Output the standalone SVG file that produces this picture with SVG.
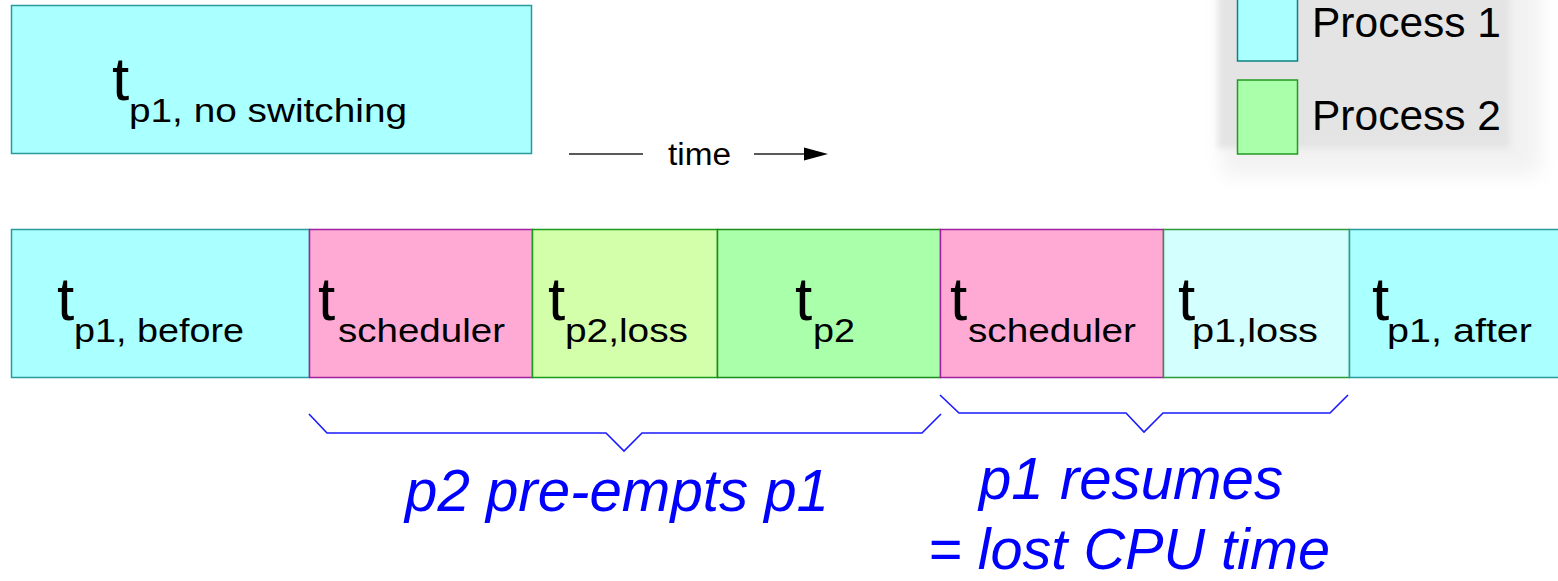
<svg xmlns="http://www.w3.org/2000/svg" width="1558" height="581" viewBox="0 0 1558 581">
<defs>
<filter id="blurBig" x="-30%" y="-30%" width="160%" height="160%"><feGaussianBlur stdDeviation="10"/></filter>
<filter id="blurSmall" x="-20%" y="-20%" width="140%" height="140%"><feGaussianBlur stdDeviation="3"/></filter>
</defs>
<style>
.p1{fill:#aaffff;stroke:#2a9a9a;stroke-width:1.5}
.p1l{fill:#d4ffff;stroke:#2a9a3a;stroke-width:1.5}
.p2{fill:#aaffaa;stroke:#1a8a1a;stroke-width:1.5}
.p2l{fill:#d4ffaa;stroke:#1a9a1a;stroke-width:1.5}
.sch{fill:#ffaad4;stroke:#a020a0;stroke-width:1.5}
.tb{font-family:"Liberation Sans",Arial,sans-serif;font-size:62px;fill:#000}
.ts{font-family:"Liberation Sans",Arial,sans-serif;font-size:33px;fill:#000}
.lg{font-family:"Liberation Sans",Arial,sans-serif;font-size:42.5px;fill:#000}
.bl{font-family:"Liberation Sans",Arial,sans-serif;font-size:59px;font-style:italic;fill:#0000ff}
.br{fill:none;stroke:#1a1aff;stroke-width:1.6}
</style>

<g id="legend">
<rect x="1222" y="-20" width="318" height="195" fill="#e4e4e4" opacity="0.5" filter="url(#blurBig)"/>
<rect x="1218" y="-10" width="292" height="158" fill="#e4e4e4" filter="url(#blurSmall)"/>
<rect x="1237.5" y="-5" width="60" height="66" class="p1" style="stroke:#108080"/>
<text x="1312" y="37" class="lg">Process 1</text>
<rect x="1237.5" y="80" width="60" height="74" class="p2" style="stroke:#229922"/>
<text x="1312" y="130" class="lg">Process 2</text>
</g>

<g id="noswitch">
<rect x="11.5" y="5.5" width="520" height="148" class="p1"/>
<text x="112" y="100" class="tb">t</text>
<text x="129" y="122" class="ts" textLength="278" lengthAdjust="spacingAndGlyphs">p1, no switching</text>
</g>

<g id="timeaxis">
<line x1="569" y1="154" x2="643" y2="154" stroke="#222" stroke-width="1.5"/>
<text x="668" y="165" font-family="Liberation Sans, Arial, sans-serif" font-size="31" textLength="63" lengthAdjust="spacingAndGlyphs" fill="#000">time</text>
<line x1="754" y1="154" x2="806" y2="154" stroke="#222" stroke-width="1.5"/>
<polygon points="804,147.5 828,154 804,160.5" fill="#000"/>
</g>

<g id="seg1">
<rect x="11.5" y="229.5" width="298" height="148" class="p1"/>
<text x="57" y="320" class="tb">t</text>
<text x="74" y="342" class="ts" textLength="170" lengthAdjust="spacingAndGlyphs">p1, before</text>
</g>
<g id="seg2">
<rect x="309.5" y="229.5" width="223" height="148" class="sch"/>
<text x="318" y="320" class="tb">t</text>
<text x="338" y="342" class="ts" textLength="167" lengthAdjust="spacingAndGlyphs">scheduler</text>
</g>
<g id="seg3">
<rect x="532.5" y="229.5" width="185" height="148" class="p2l"/>
<text x="548" y="320" class="tb">t</text>
<text x="565" y="342" class="ts" textLength="123" lengthAdjust="spacingAndGlyphs">p2,loss</text>
</g>
<g id="seg4">
<rect x="717.5" y="229.5" width="223" height="148" class="p2"/>
<text x="795" y="320" class="tb">t</text>
<text x="813" y="342" class="ts" textLength="42" lengthAdjust="spacingAndGlyphs">p2</text>
</g>
<g id="seg5">
<rect x="940.5" y="229.5" width="223" height="148" class="sch"/>
<text x="950" y="320" class="tb">t</text>
<text x="968" y="342" class="ts" textLength="168" lengthAdjust="spacingAndGlyphs">scheduler</text>
</g>
<g id="seg6">
<rect x="1163.5" y="229.5" width="186" height="148" class="p1l"/>
<text x="1178" y="320" class="tb">t</text>
<text x="1192" y="342" class="ts" textLength="126" lengthAdjust="spacingAndGlyphs">p1,loss</text>
</g>
<g id="seg7">
<rect x="1349.5" y="229.5" width="215" height="148" class="p1"/>
<text x="1372" y="320" class="tb">t</text>
<text x="1387" y="342" class="ts" textLength="145" lengthAdjust="spacingAndGlyphs">p1, after</text>
</g>

<g id="connectors">
<polyline class="br" points="309,414 327,433 606,433 624,451 642,433 922,433 941,414"/>
<polyline class="br" points="940,395 959,413 1126,413 1144,432 1163,413 1330,413 1348,395"/>
</g>

<g id="labels">
<text x="405" y="511" class="bl" textLength="424" lengthAdjust="spacingAndGlyphs">p2 pre-empts p1</text>
<text x="979" y="499" class="bl" textLength="304" lengthAdjust="spacingAndGlyphs">p1 resumes</text>
<text x="928" y="569" class="bl" style="font-size:57px" textLength="402" lengthAdjust="spacingAndGlyphs">= lost CPU time</text>
</g>
</svg>
